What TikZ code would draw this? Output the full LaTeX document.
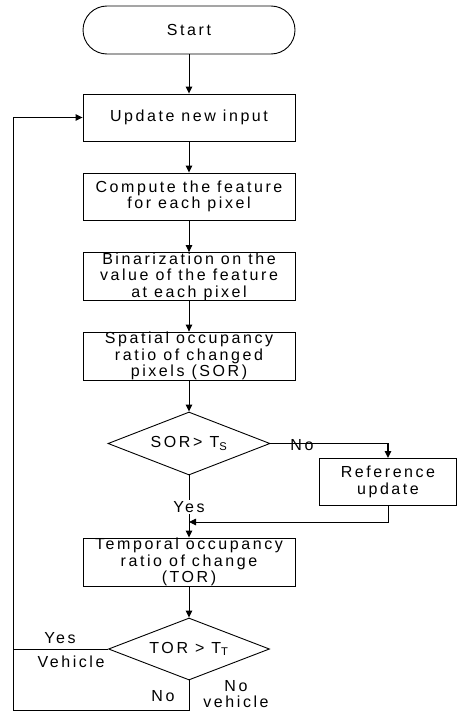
\documentclass[tikz,border=0pt]{standalone}
\usepackage{fontspec}
\setmainfont{Liberation Sans}[LetterSpace=16]
\usetikzlibrary{shapes.geometric,arrows.meta}
\tikzset{
  txt/.style={font=\fontsize{16}{16.5}\selectfont},
  procbox/.style={draw, line width=0.9pt, txt, align=center, minimum width=212pt, minimum height=47pt, inner xsep=1pt, inner ysep=0pt},
  termbox/.style={draw, line width=0.9pt, txt, rounded corners=24pt, minimum width=212pt, minimum height=48pt},
  decide/.style={draw, line width=0.9pt, diamond, txt, aspect=2.57, inner sep=0pt, minimum width=162pt, minimum height=63pt},
  conn/.style={line width=0.9pt},
  arr/.style={conn, -{Triangle[length=7pt,width=6.5pt]}},
  lbl/.style={txt, inner sep=1pt}
}
\begin{document}
\begin{tikzpicture}[x=1pt,y=-1pt]
\useasboundingbox (0,0) rectangle (465,712);
\node[termbox] (start) at (189,30) {Start};
\node[procbox] (upd) at (189,117.5) {Update new input};
\node[procbox] (comp) at (189,196.5) {Compute the feature\\for each pixel};
\node[procbox] (bin) at (189,276.5) {Binarization on the\\value of the feature\\at each pixel};
\node[procbox] (sor) at (189,356) {Spatial occupancy\\ratio of changed\\pixels (SOR)};
\node[decide] (dsor) at (189,443.5) {SOR\,> T\textsubscript{S}};
\node[procbox, minimum width=137pt] (ref) at (388,482) {Reference\\update};
\node[procbox, minimum height=48pt] (tor) at (189,562) {Temporal occupancy\\ratio of change\\(TOR)};
\node[decide, minimum width=161pt, minimum height=62pt] (dtor) at (189,649) {TOR > T\textsubscript{T}};

\coordinate (lx) at (13,117.5);
\coordinate (rn) at (388,443.5);
\coordinate (rb) at (388,522);
\coordinate (mj) at (189,522);
\coordinate (yl) at (13,649);
\coordinate (bb) at (189,710);
\coordinate (bl) at (13,710);

\draw[arr] (start) -- (upd);
\draw[arr] (upd) -- (comp);
\draw[arr] (comp) -- (bin);
\draw[arr] (bin) -- (sor);
\draw[arr] (sor) -- (dsor);
\draw[arr, line width=1.4pt] (dsor.east) -- (rn) -- (ref.north);
\draw[arr] (ref.south) -- (rb) -- (mj);
\draw[arr] (dsor.south) -- (tor.north);
\draw[arr] (tor) -- (dtor);
\draw[conn] (dtor.west) -- (yl);
\draw[arr] (dtor.south) -- (bb) -- (bl) -- (lx) -- (upd.west);

\node[lbl] (lno1) at (302,445) {No};
\node[lbl, fill=white] (lyes1) at (189,507) {Yes};
\node[lbl] (lyes2) at (60,638) {Yes};
\node[lbl] (lveh) at (71,662) {Vehicle};
\node[lbl] (lno2) at (163,696) {No};
\node[lbl, align=center, font=\fontsize{16}{15.5}\selectfont] (lnoveh) at (236,694) {No\\vehicle};
\end{tikzpicture}
\end{document}
